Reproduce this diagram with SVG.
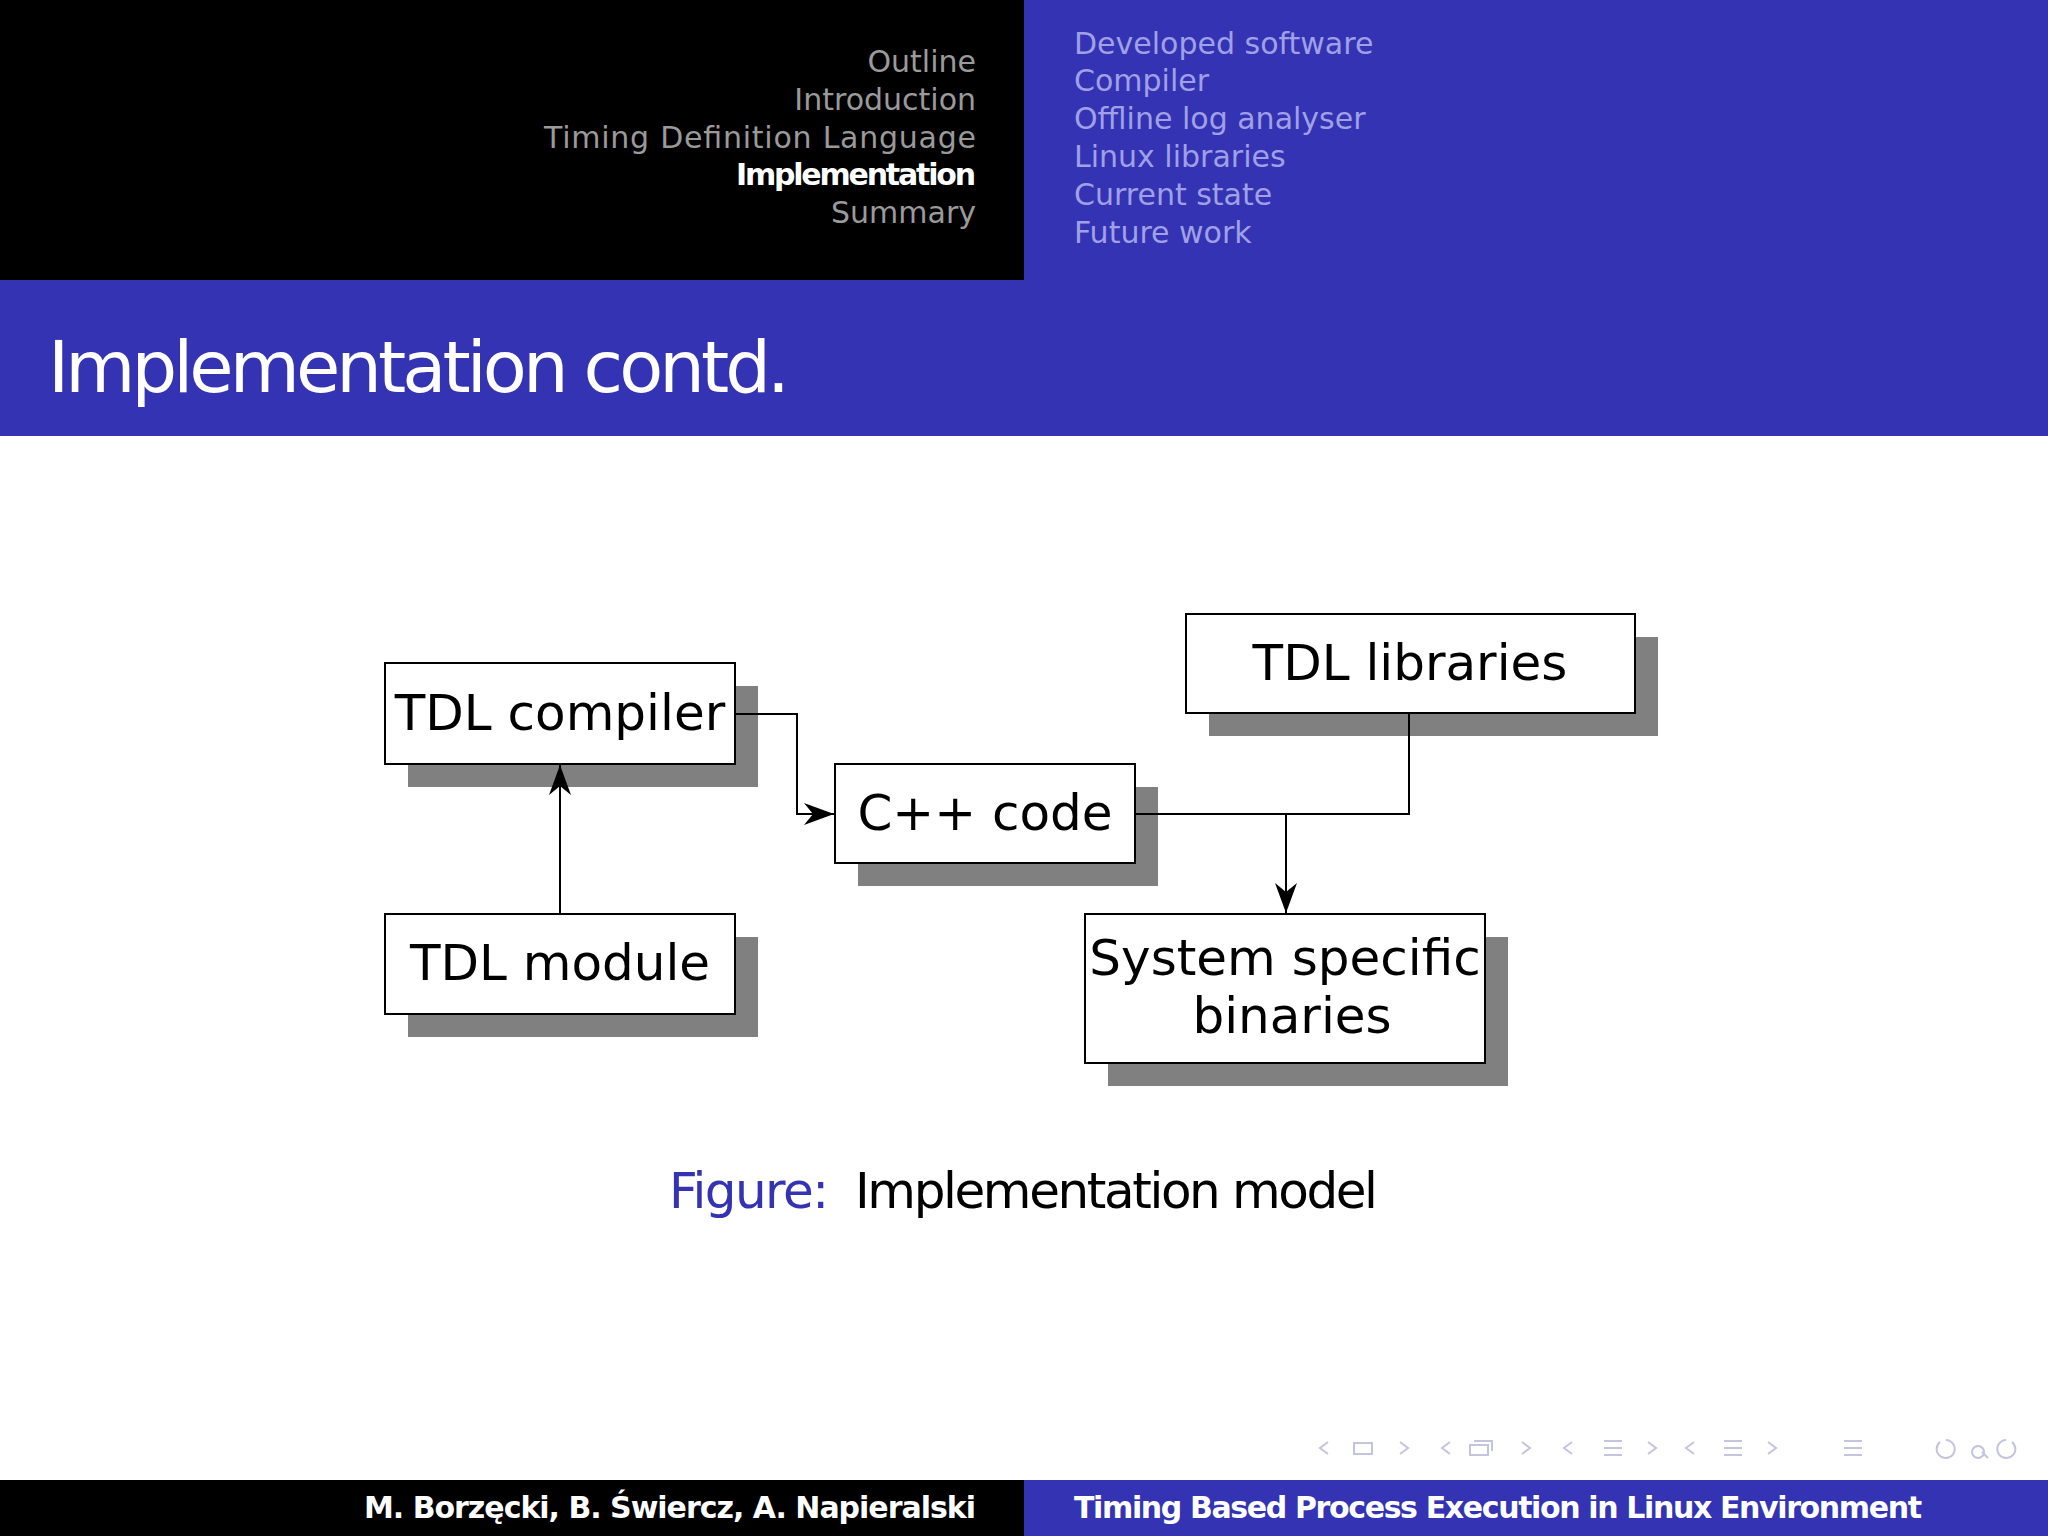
<svg xmlns="http://www.w3.org/2000/svg" width="2048" height="1536" viewBox="0 0 2048 1536">
<defs>
<style>
.nl{font-family:"DejaVu Sans",sans-serif;font-size:30px;fill:#9a9a9a;text-anchor:end}
.nr{font-family:"DejaVu Sans",sans-serif;font-size:30px;fill:#a0a0e6}
.box{fill:#fff;stroke:#000;stroke-width:2}
.sh{fill:#808080}
.bt{font-family:"DejaVu Sans",sans-serif;font-size:50px;fill:#000;text-anchor:middle}
.ln{fill:none;stroke:#000;stroke-width:2}
.nav{fill:none;stroke:#c4c4dc;stroke-width:2}
</style>
<marker id="ar" viewBox="0 0 10 10" refX="10" refY="5" markerWidth="30" markerHeight="22" markerUnits="userSpaceOnUse" orient="auto" preserveAspectRatio="none"><path d="M0,0L10,5L0,10L3,5z" fill="#000"/></marker>
</defs>
<rect width="2048" height="1536" fill="#fff"/>
<rect x="0" y="0" width="1024" height="280" fill="#000"/>
<rect x="1024" y="0" width="1024" height="280" fill="#3333b3"/>
<rect x="0" y="280" width="2048" height="156" fill="#3333b3"/>
<text class="nl" x="976" y="72">Outline</text>
<text class="nl" x="976" y="110">Introduction</text>
<text class="nl" x="976" y="148" textLength="432">Timing Definition Language</text>
<text class="nl" x="976" y="185" style="fill:#fff;font-weight:bold" textLength="240">Implementation</text>
<text class="nl" x="976" y="223">Summary</text>
<text class="nr" x="1074" y="54">Developed software</text>
<text class="nr" x="1074" y="91">Compiler</text>
<text class="nr" x="1074" y="129">Offline log analyser</text>
<text class="nr" x="1074" y="167">Linux libraries</text>
<text class="nr" x="1074" y="205">Current state</text>
<text class="nr" x="1074" y="243">Future work</text>
<text x="48" y="392" font-family="DejaVu Sans,sans-serif" font-size="72" fill="#fff" textLength="742">Implementation contd.</text>
<g id="compiler"><rect class="sh" x="408" y="686" width="350" height="101"/><rect class="box" x="385" y="663" width="350" height="101"/><text class="bt" x="560" y="730">TDL compiler</text></g>
<g id="module"><rect class="sh" x="408" y="937" width="350" height="100"/><rect class="box" x="385" y="914" width="350" height="100"/><text class="bt" x="560" y="980">TDL module</text></g>
<g id="cpp"><rect class="sh" x="858" y="787" width="300" height="99"/><rect class="box" x="835" y="764" width="300" height="99"/><text class="bt" x="985" y="830">C++ code</text></g>
<g id="libs"><rect class="sh" x="1209" y="637" width="449" height="99"/><rect class="box" x="1186" y="614" width="449" height="99"/><text class="bt" x="1410" y="680">TDL libraries</text></g>
<g id="bins"><rect class="sh" x="1108" y="937" width="400" height="149"/><rect class="box" x="1085" y="914" width="400" height="149"/><text class="bt" x="1285" y="975">System specific</text><text class="bt" x="1292" y="1033">binaries</text></g>
<g id="connectors">
<path class="ln" d="M735,714H797V814H834" marker-end="url(#ar)"/>
<path class="ln" d="M560,914V765" marker-end="url(#ar)"/>
<path class="ln" d="M1135,814H1409V713"/>
<path class="ln" d="M1286,814V913" marker-end="url(#ar)"/>
</g>
<text x="669" y="1208" font-family="DejaVu Sans,sans-serif" font-size="50" fill="#3333b3" textLength="160">Figure:</text>
<text x="855" y="1208" font-family="DejaVu Sans,sans-serif" font-size="50" fill="#000" textLength="523">Implementation model</text>
<g id="navsym">
<path class="nav" d="M1328,1442l-8,6l8,6M1354,1443h18v11h-18zM1400,1442l8,6l-8,6M1450,1442l-8,6l8,6M1470,1445h18v10h-18zM1474,1441h18v10M1522,1442l8,6l-8,6M1572,1442l-8,6l8,6M1604,1441h18M1604,1448h18M1604,1455h18M1648,1442l8,6l-8,6M1694,1442l-8,6l8,6M1724,1441h18M1724,1448h18M1724,1455h18M1768,1442l8,6l-8,6M1844,1441h18M1844,1448h18M1844,1455h18M1940,1442a9,9 0 1,0 6,-2M1978,1446a6,6 0 1,0 0.1,0M1982,1452l6,6M2012,1442a9,9 0 1,1 -6,-2"/>
</g>
<rect x="0" y="1480" width="1024" height="56" fill="#000"/>
<rect x="1024" y="1480" width="1024" height="56" fill="#3333b3"/>
<text x="976" y="1518" text-anchor="end" font-family="DejaVu Sans,sans-serif" font-size="30" font-weight="bold" fill="#fff" textLength="612">M. Borzęcki, B. Świercz, A. Napieralski</text>
<text x="1074" y="1518" font-family="DejaVu Sans,sans-serif" font-size="30" font-weight="bold" fill="#fff" textLength="848">Timing Based Process Execution in Linux Environment</text>
</svg>
